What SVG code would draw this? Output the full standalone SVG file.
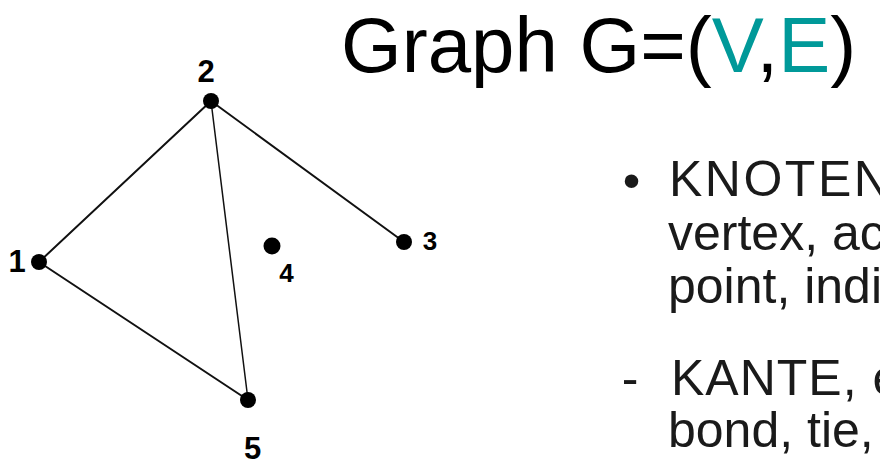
<svg xmlns="http://www.w3.org/2000/svg" width="880" height="463" viewBox="0 0 880 463">
<style>
.edge{stroke:#111;stroke-width:2;fill:none;stroke-linecap:round}
.dot{fill:#000}
.lbl{font-family:"Liberation Sans",Arial,sans-serif;font-weight:bold;fill:#000;text-anchor:middle}
.title{font-family:"Liberation Sans",Arial,sans-serif;font-size:78px;fill:#000}
.teal{fill:#009999}
.body{font-family:"Liberation Sans",Arial,sans-serif;font-size:50px;fill:#1a1a1a}
</style>
<rect width="880" height="463" fill="#fff"/>
<g id="connectors">
<line class="edge" x1="39" y1="262" x2="211" y2="101"/>
<line class="edge" x1="211" y1="101" x2="404" y2="242"/>
<line class="edge" x1="211" y1="101" x2="248" y2="400" style="stroke-width:1.5"/>
<line class="edge" x1="39" y1="262" x2="248" y2="400"/>
</g>
<g id="node1"><circle class="dot" cx="39" cy="262" r="8"/><text class="lbl" x="17" y="272" font-size="31">1</text></g>
<g id="node2"><circle class="dot" cx="211" cy="101" r="8"/><text class="lbl" x="206" y="82" font-size="31">2</text></g>
<g id="node3"><circle class="dot" cx="404" cy="242" r="8"/><text class="lbl" x="430" y="250" font-size="26">3</text></g>
<g id="node4"><circle class="dot" cx="272" cy="246" r="8.5"/><text class="lbl" x="286.5" y="282" font-size="26">4</text></g>
<g id="node5"><circle class="dot" cx="248" cy="400" r="8"/><text class="lbl" x="252.5" y="459" font-size="31">5</text></g>
<g id="title"><text class="title" x="341" y="72">Graph G=(<tspan class="teal">V</tspan>,<tspan class="teal">E</tspan>)</text></g>
<g id="bullets">
<text class="body" x="631.5" y="198" text-anchor="middle">•</text>
<text class="body" x="669" y="196" letter-spacing="2.5">KNOTEN</text>
<text class="body" x="668" y="250">vertex, ac</text>
<text class="body" x="668" y="303">point, indi</text>
<text class="body" x="630" y="395" text-anchor="middle">-</text>
<text class="body" x="671" y="395" letter-spacing="1">KANTE, e</text>
<text class="body" x="668" y="447">bond, tie,</text>
</g>
</svg>
